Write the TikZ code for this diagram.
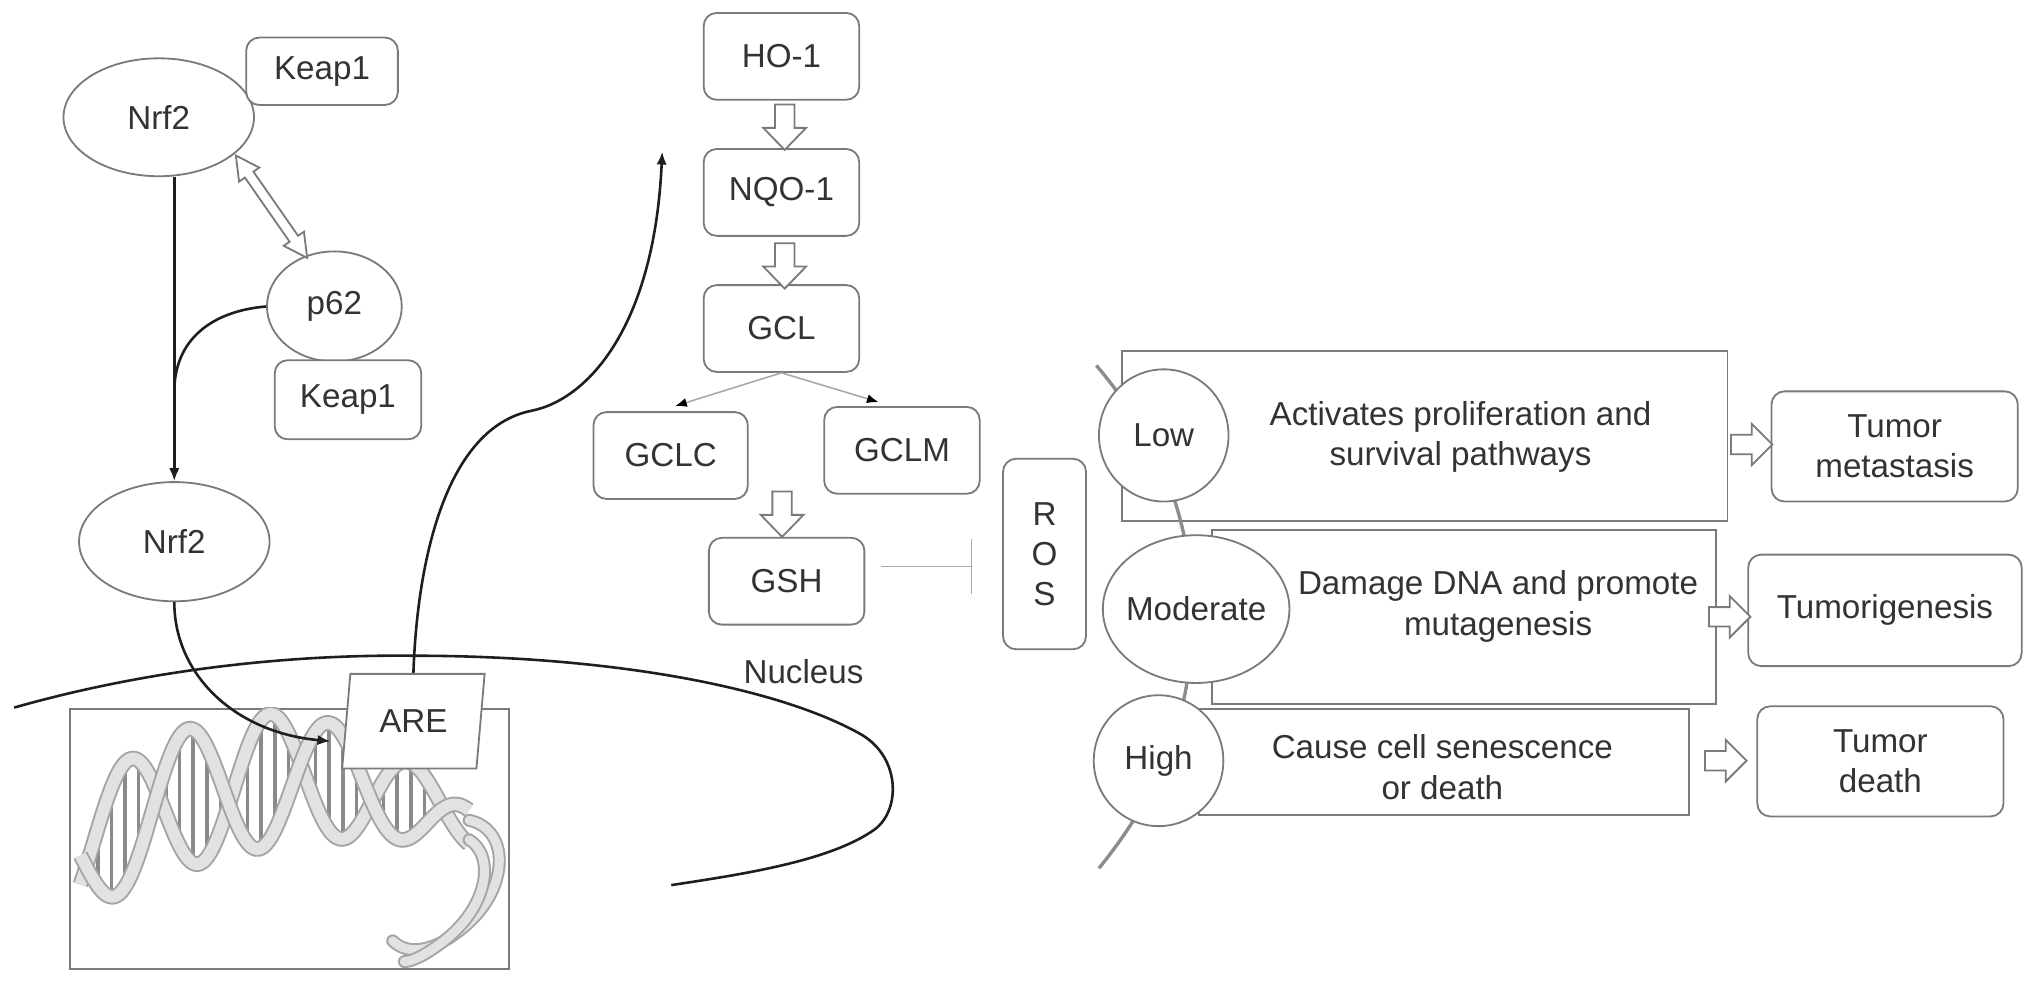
\documentclass[tikz,border=0pt]{standalone}
\usepackage{fontspec}
\setmainfont{Liberation Sans}
\usetikzlibrary{shapes.geometric,arrows.meta,calc}
\definecolor{edge}{HTML}{7A7A7A}
\definecolor{txt}{HTML}{333333}
\definecolor{crv}{HTML}{1E1E1E}
\definecolor{lgray}{HTML}{A8A8A8}
\definecolor{bone}{HTML}{8C8C8C}
\definecolor{dnal}{HTML}{E2E2E2}
\definecolor{dnad}{HTML}{A4A4A4}
\definecolor{dnas}{HTML}{8A8A8A}
\tikzset{
  darr/.pic={\draw[blk] (-7.5,0) -- (7.5,0) -- (7.5,18) -- (16.5,18) -- (0,35) -- (-16.5,18) -- (-7.5,18) -- cycle;},
  rarr/.pic={\draw[blk] (0,-7.5) -- (16,-7.5) -- (16,-16) -- (32,0) -- (16,16) -- (16,7.5) -- (0,7.5) -- cycle;},
}
\begin{document}
\begin{tikzpicture}[x=0.5pt,y=-0.5pt,
  every node/.style={font=\fontsize{12.8}{15.5}\selectfont, text=txt},
  rbox/.style={draw=edge, line width=0.7pt, rounded corners=5pt, fill=white, inner sep=0pt, align=center},
  sbox/.style={draw=edge, line width=0.7pt, inner sep=0pt},
  ell/.style={ellipse, draw=edge, line width=0.7pt, fill=white, inner sep=0pt},
  crvline/.style={draw=crv, line width=1pt},
  blacktip/.style={-{Latex[length=5pt,width=4pt]}},
  blk/.style={draw=edge, line width=0.7pt, fill=white, line join=miter},
  thinarr/.style={draw=lgray, line width=0.6pt, -{Latex[length=4.5pt,width=3.5pt,color=black]}},
]
\useasboundingbox (0,0) rectangle (1568,758);
\fill[white] (0,0) rectangle (1568,758);

% ---------- left cluster ----------
\node[ell, minimum width=73.5pt, minimum height=45.5pt] (nrf2a) at (122.5,90.5) {Nrf2};
\node[rbox, minimum width=58.5pt, minimum height=26pt] (keapA) at (248.5,55) {Keap1};
\node[ell, minimum width=52pt, minimum height=42.5pt] (p62) at (258,236.5) {p62};
\node[rbox, minimum width=56.5pt, minimum height=30.5pt] (keapB) at (268.5,308.5) {Keap1};
\node[ell, minimum width=73.5pt, minimum height=46pt] (nrf2b) at (134.5,418) {Nrf2};

% open double arrow Nrf2 <-> p62
\begin{scope}[shift={(182,120)}, rotate=-55.15]
  \draw[blk] (0,0) -- (18,9.5) -- (18,4) -- (78.3,4) -- (78.3,9.5) -- (96.3,0) -- (78.3,-9.5) -- (78.3,-4) -- (18,-4) -- (18,-9.5) -- cycle;
\end{scope}

\draw[crvline, blacktip] (nrf2a.south -| nrf2b.north) -- (nrf2b.north);
\coordinate (jn) at ($(nrf2b.north)+(0,-69)$);
\draw[crvline] (p62.west) .. controls +(-41,3.5) and +(0,-41) .. (jn);

% DNA box with helix
\node[sbox, minimum width=169.5pt, minimum height=100.5pt] (dna) at (223.5,647.5) {};
\begin{scope}
  \clip (dna.south west) rectangle (dna.north east);
  \foreach \t in {0.01,0.045,...,0.99} {
    \draw[dnas, line width=1.4pt] ({62+300*\t},{660-212.4*\t+192.4*\t*\t+(45+53.7*\t-83.7*\t*\t)*sin(980*\t)}) -- ({62+300*\t},{660-212.4*\t+192.4*\t*\t+(45+53.7*\t-83.7*\t*\t)*sin(980*\t+150)});
  }
  \draw[dnad, line width=6pt] plot[variable=\t, domain=0:1, samples=160] ({62+300*\t},{660-212.4*\t+192.4*\t*\t+(45+53.7*\t-83.7*\t*\t)*sin(980*\t+150)});
  \draw[dnal, line width=4.5pt] plot[variable=\t, domain=0:1, samples=160] ({62+300*\t},{660-212.4*\t+192.4*\t*\t+(45+53.7*\t-83.7*\t*\t)*sin(980*\t+150)});
  \draw[dnad, line width=6pt] plot[variable=\t, domain=0:1, samples=160] ({62+300*\t},{660-212.4*\t+192.4*\t*\t+(45+53.7*\t-83.7*\t*\t)*sin(980*\t)});
  \draw[dnal, line width=4.5pt] plot[variable=\t, domain=0:1, samples=160] ({62+300*\t},{660-212.4*\t+192.4*\t*\t+(45+53.7*\t-83.7*\t*\t)*sin(980*\t)});
  \draw[dnad, line width=5pt, line cap=round] (362,633) .. controls (395,640) and (394,690) .. (352,720) .. controls (335,733) and (315,738) .. (303,726);
  \draw[dnal, line width=3.5pt, line cap=round] (362,633) .. controls (395,640) and (394,690) .. (352,720) .. controls (335,733) and (315,738) .. (303,726);
  \draw[dnad, line width=5pt, line cap=round] (362,648) .. controls (382,660) and (378,700) .. (340,728) .. controls (328,737) and (318,742) .. (312,742);
  \draw[dnal, line width=3.5pt, line cap=round] (362,648) .. controls (382,660) and (378,700) .. (340,728) .. controls (328,737) and (318,742) .. (312,742);
\end{scope}

\node[trapezium, trapezium left angle=79, trapezium right angle=101, trapezium stretches=true,
      draw=edge, fill=white, line width=0.7pt, inner sep=0pt,
      minimum width=55pt, minimum height=36.5pt] (are) at (319,556.5) {ARE};

% nucleus membrane
\draw[crvline] (11,546) .. controls (120,515) and (230,505) .. (319,506)
  .. controls (470,506) and (600,530) .. (665,567)
  .. controls (695,585) and (695,625) .. (675,640)
  .. controls (640,665) and (570,675) .. (518,683);
\node (nuc) at (620,518) {Nucleus};

\draw[crvline, blacktip] (nrf2b.south) .. controls +(0,55) and +(-75,-7) .. ($(are.center)+(-64,15.5)$);
\coordinate (upend) at (511,117);
\draw[crvline, blacktip] (are.north) .. controls (322,430) and (345,330) .. (410,317)
  .. controls (455,308) and (505,250) .. (upend);

% ---------- middle cascade ----------
\node[rbox, minimum width=60pt, minimum height=33.5pt] (ho1) at (603,43.5) {HO-1};
\node[rbox, minimum width=60pt, minimum height=33.5pt] (nqo1) at (603,148.5) {NQO-1};
\node[rbox, minimum width=60pt, minimum height=33.5pt] (gcl) at (603,253.5) {GCL};
\node[rbox, minimum width=59.5pt, minimum height=33.5pt] (gclc) at (517.5,351.5) {GCLC};
\node[rbox, minimum width=60pt, minimum height=33.5pt] (gclm) at (696,347.5) {GCLM};
\node[rbox, minimum width=60pt, minimum height=33.5pt] (gsh) at (607,448.5) {GSH};
\node[rbox, minimum width=32pt, minimum height=73.5pt] (ros) at (806,427.5) {R\\O\\S};

\pic at ($(ho1.south)+(2.5,3)$) {darr};
\pic at ($(nqo1.south)+(2.5,5)$) {darr};
\pic at ($(gsh.north)+(-3.5,-35)$) {darr};

\draw[thinarr] (gcl.south) -- ($(gclc.north)+(3.5,-4)$);
\draw[thinarr] (gcl.south) -- ($(gclm.north)+(-18,-3)$);
\draw[draw=lgray, line width=0.6pt, -{Bar[width=21pt]}] ($(gsh.east)+(12,-11.5)$) -- ($(ros.west)+(-23,9.5)$);

% ---------- ROS levels ----------
\node[sbox, minimum width=233.5pt, minimum height=65.5pt] (lowbox) at (1099.5,336.5) {};
\node[sbox, minimum width=194.5pt, minimum height=67pt] (modbox) at (1129.5,476) {};
\node[sbox, minimum width=189pt, minimum height=41pt] (highbox) at (1114,588) {};
\node[align=center] (lowtxt) at (1127,337) {Activates proliferation and\\survival pathways};
\node[align=center] (modtxt) at (1156,468) {Damage DNA and promote\\mutagenesis};
\node[align=center] (hightxt) at (1113,592) {Cause cell senescence\\or death};

\draw[bone, line width=1.3pt] (846,282) .. controls (895,340) and (920,400) .. (920,476)
  .. controls (920,552) and (895,612) .. (848,670);

\node[ell, minimum width=50pt, minimum height=51pt] (lowc) at (898,336) {Low};
\node[ell, minimum width=72pt, minimum height=57pt] (modc) at (923,470) {\makebox[0pt]{Moderate}};
\node[ell, minimum width=50pt, minimum height=50.5pt] (highc) at (894,587) {High};

\node[rbox, minimum width=95pt, minimum height=42.5pt] (tmeta) at (1462,344.5) {Tumor\\metastasis};
\node[rbox, minimum width=105.5pt, minimum height=43pt] (tgen) at (1454.5,471) {Tumorigenesis};
\node[rbox, minimum width=95pt, minimum height=42.5pt] (tdeath) at (1451,587.5) {Tumor\\death};

\pic at ($(lowbox.east)+(2,6.5)$) {rarr};
\pic at ($(modbox.east)+(-6,0)$) {rarr};
\pic at ($(highbox.east)+(12,-1)$) {rarr};
\end{tikzpicture}
\end{document}
